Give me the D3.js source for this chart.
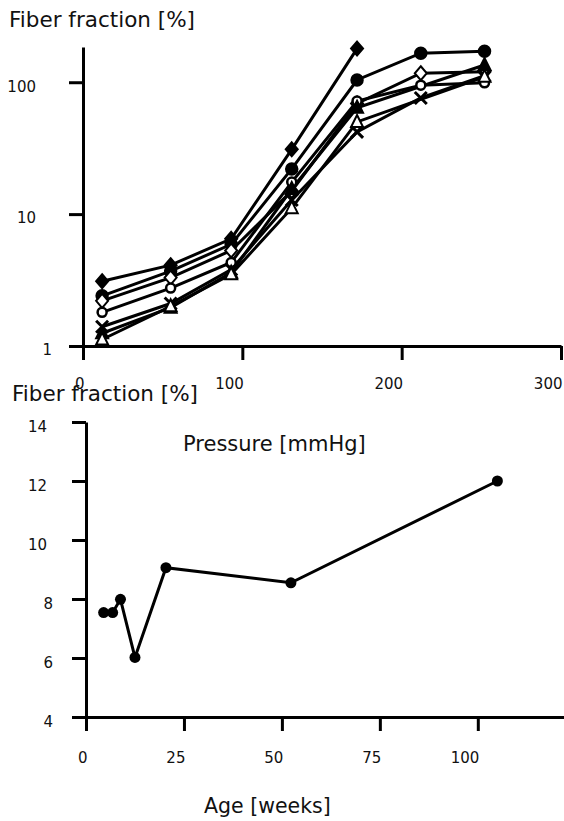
<!DOCTYPE html>
<html>
<head>
<meta charset="utf-8">
<script src="https://cdn.jsdelivr.net/npm/d3@7"></script>
<style>
  body { margin: 0; background: #fff; }
  svg { display: block; font-family: "DejaVu Sans", sans-serif; }
</style>
</head>
<body>
<div id="chart"></div>
<script>
// top panel: fiber fraction vs pressure, one line per group (log y)
let pressure = [12, 55, 93, 131, 172, 212, 252];
let fiber_fdiamond = [3.1, 4.1, 6.5, 31, 180, null, null];
let fiber_fcircle = [2.4, 3.7, 5.9, 22, 104, 166, 172];
let fiber_odiamond = [2.2, 3.3, 5.3, 15, 69, 117, 120];
let fiber_ocircle = [1.8, 2.75, 4.3, 17.5, 72, 95, 99];
let fiber_cross = [1.4, 2.1, 3.8, 12.8, 42, 76, 112];
let fiber_ftriangle = [1.25, 1.95, 3.6, 15.5, 64, null, 135];
let fiber_otriangle = [1.12, 2.0, 3.5, 11.1, 50, null, 110];
let top_x_ticks = [0, 100, 200, 300];
let top_y_ticks = [1, 10, 100];

// bottom panel: pressure vs age
let age = [4.5, 6.8, 8.8, 12.5, 20.4, 52.3, 105];
let age_pressure = [7.54, 7.54, 7.99, 6.02, 9.06, 8.55, 12.0];
let bottom_x_ticks = [0, 25, 50, 75, 100];
let bottom_y_ticks = [4, 6, 8, 10, 12, 14];

let chart_width = 564;
let chart_height = 821;

let svg = d3
  .select("#chart")
  .append("svg")
  .attr("width", chart_width)
  .attr("height", chart_height);

function style_axis(g) {
  g.selectAll("path, line")
    .attr("stroke", "#000")
    .attr("stroke-width", 3);
  g.selectAll("text")
    .attr("fill", "#111")
    .attr("font-size", 15)
    .attr("font-family", "DejaVu Sans, sans-serif");
}

/* TOP PANEL */
let x_top = d3.scaleLinear().domain([0, 300]).range([83, 561]);
let y_top = d3.scaleLog().domain([1, 185]).range([346, 47]);

let top_xg = svg
  .append("g")
  .attr("transform", "translate(0," + y_top(1) + ")")
  .call(
    d3.axisBottom(x_top).tickValues(top_x_ticks).tickSize(14).tickSizeOuter(0).tickFormat(d3.format("d"))
  );
style_axis(top_xg);
top_xg.selectAll("text").attr("text-anchor", "end").attr("x", 1).attr("y", 32);

let top_yg = svg
  .append("g")
  .attr("transform", "translate(" + x_top(0) + ",0)")
  .call(
    d3.axisLeft(y_top).tickValues(top_y_ticks).tickSize(14).tickSizeOuter(0).tickFormat(d3.format("d"))
  );
style_axis(top_yg);
top_yg.selectAll("text")
  .attr("x", function (d) { return d < 10 ? -31 : -47; })
  .attr("y", 4);

let series = [
  { values: fiber_fdiamond, marker: "fdiamond" },
  { values: fiber_fcircle, marker: "fcircle" },
  { values: fiber_odiamond, marker: "odiamond" },
  { values: fiber_ocircle, marker: "ocircle" },
  { values: fiber_cross, marker: "cross" },
  { values: fiber_ftriangle, marker: "ftriangle" },
  { values: fiber_otriangle, marker: "otriangle" }
];

// turn each series into points, skipping missing values
series.forEach(function (s) {
  s.points = pressure
    .map(function (p, i) { return { x: p, y: s.values[i] }; })
    .filter(function (d) { return d.y != null; });
});

let top_line = d3.line()
  .x(function (d) { return x_top(d.x); })
  .y(function (d) { return y_top(d.y); });

svg.selectAll(".fiber-line")
  .data(series)
  .enter()
  .append("path")
  .attr("class", "fiber-line")
  .attr("d", function (s) { return top_line(s.points); })
  .attr("fill", "none")
  .attr("stroke", "#000")
  .attr("stroke-width", 3);

function draw_marker(g, type) {
  if (type == "fcircle" || type == "ocircle") {
    g.append("circle")
      .attr("r", type == "fcircle" ? 5.5 : 4.5)
      .attr("fill", type == "fcircle" ? "#000" : "#fff")
      .attr("stroke", "#000")
      .attr("stroke-width", 2.5);
  } else if (type == "fdiamond" || type == "odiamond") {
    g.append("path")
      .attr("d", "M0,-7L6,0L0,7L-6,0Z")
      .attr("fill", type == "fdiamond" ? "#000" : "#fff")
      .attr("stroke", "#000")
      .attr("stroke-width", 2);
  } else if (type == "ftriangle" || type == "otriangle") {
    g.append("path")
      .attr("d", "M0,-7L6,5L-6,5Z")
      .attr("fill", type == "ftriangle" ? "#000" : "#fff")
      .attr("stroke", "#000")
      .attr("stroke-width", 2);
  } else if (type == "cross") {
    g.append("path")
      .attr("d", "M-6,-6L6,6M-6,6L6,-6")
      .attr("stroke", "#000")
      .attr("stroke-width", 3);
  }
}

series.forEach(function (s) {
  svg.append("g")
    .selectAll("g")
    .data(s.points)
    .enter()
    .append("g")
    .attr("transform", function (d) {
      return "translate(" + x_top(d.x) + "," + y_top(d.y) + ")";
    })
    .each(function () { draw_marker(d3.select(this), s.marker); });
});

svg.append("text")
  .attr("x", 9)
  .attr("y", 27)
  .attr("font-size", 21.5)
  .attr("fill", "#111")
  .text("Fiber fraction [%]");

/* BOTTOM PANEL */
let x_bot = d3.scaleLinear().domain([0, 122]).range([86, 564]);
let y_bot = d3.scaleLinear().domain([4, 14]).range([717, 422]);

let bot_xg = svg
  .append("g")
  .attr("transform", "translate(0," + y_bot(4) + ")")
  .call(d3.axisBottom(x_bot).tickValues(bottom_x_ticks).tickSize(14).tickSizeOuter(0));
style_axis(bot_xg);
bot_xg.selectAll("text").attr("text-anchor", "end").attr("x", 1).attr("y", 35);

let bot_yg = svg
  .append("g")
  .attr("transform", "translate(" + x_bot(0) + ",0)")
  .call(d3.axisLeft(y_bot).tickValues(bottom_y_ticks).tickSize(14).tickSizeOuter(0));
style_axis(bot_yg);
bot_yg.selectAll("text")
  .attr("x", function (d) { return d < 10 ? -33 : -39; })
  .attr("y", 5);

let age_points = age.map(function (a, i) { return { x: a, y: age_pressure[i] }; });

svg.append("path")
  .datum(age_points)
  .attr("d", d3.line()
    .x(function (d) { return x_bot(d.x); })
    .y(function (d) { return y_bot(d.y); }))
  .attr("fill", "none")
  .attr("stroke", "#000")
  .attr("stroke-width", 3);

svg.selectAll(".age-dot")
  .data(age_points)
  .enter()
  .append("circle")
  .attr("class", "age-dot")
  .attr("cx", function (d) { return x_bot(d.x); })
  .attr("cy", function (d) { return y_bot(d.y); })
  .attr("r", 5.5)
  .attr("fill", "#000");

svg.append("text")
  .attr("x", 12)
  .attr("y", 401)
  .attr("font-size", 21.5)
  .attr("fill", "#111")
  .text("Fiber fraction [%]");

svg.append("text")
  .attr("x", 183)
  .attr("y", 451)
  .attr("font-size", 21)
  .attr("fill", "#111")
  .text("Pressure [mmHg]");

svg.append("text")
  .attr("x", 204)
  .attr("y", 813)
  .attr("font-size", 20.5)
  .attr("fill", "#111")
  .text("Age [weeks]");
</script>
</body>
</html>
